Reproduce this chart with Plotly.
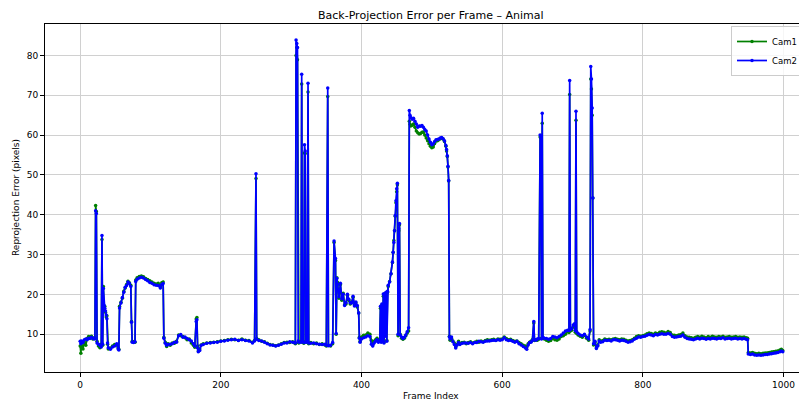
import plotly.graph_objects as go

frames = [
    0, 1, 2, 4, 6, 8, 10, 12, 14, 16, 18, 20, 21, 22, 23, 24, 26, 28, 30,
    31, 32, 33, 34, 35, 36, 37, 38, 39, 40, 43, 46, 49, 52, 54, 55,
    56, 58, 60, 62, 64, 66, 68, 70, 72, 73, 74, 76, 78,
    79, 81, 84, 87, 90, 93, 96, 99, 102, 105, 108, 111, 114, 116, 118,
    119, 121, 123, 125, 128, 131, 134, 137, 140, 143, 146, 149, 152, 155, 158, 161, 163,
    165, 166, 167, 168, 170, 172, 175, 180, 185, 190, 195, 200, 205, 210, 215, 220, 225,
    230, 235, 240, 245, 248, 250, 251, 254, 258, 262, 266, 270, 274, 278, 282, 286, 290,
    294, 298, 302, 305, 306, 307, 308, 309, 310, 311, 314, 315, 316, 318, 319, 320, 321,
    323, 324, 325, 328, 332, 336, 340, 344, 348, 350, 352, 353, 356, 359,
    361, 363, 364, 365, 366, 368, 370, 372, 374, 376, 378, 380, 382, 384, 386, 388, 390,
    392, 394, 396, 397, 398, 400, 403, 406, 409, 412, 414, 416, 418, 420, 422, 424, 426,
    427, 428, 429, 430, 431, 432, 433, 434, 435, 436, 437, 438, 440, 442, 444, 445, 446,
    447, 448, 449, 450, 451, 452, 453, 454, 455, 457, 459, 461, 463, 465, 467,
    468, 469, 470, 472, 474, 476, 478, 480, 482, 484, 486, 488, 490, 492, 494, 496, 498,
    500, 502, 504, 506, 508, 510, 512, 514, 516, 518, 520, 521, 522, 523, 524,
    525, 526, 528, 530, 532, 534, 536, 538, 540, 543, 546, 549, 552, 555, 558, 561, 564,
    567, 570, 573, 576, 579, 582, 585, 588, 591, 594, 597, 600, 603, 606, 609, 612, 615,
    618, 621, 624, 627, 630, 633, 635, 637, 639, 641, 643, 645, 646, 648, 650, 652,
    654, 655, 656, 657, 658, 660, 663, 666, 669, 672, 675, 678, 681, 684, 687, 690, 693,
    695, 696, 697, 699, 701, 703, 704, 705, 706, 708, 711, 714, 717, 720, 723, 725,
    726, 727, 728, 729, 730, 732, 734, 736, 738, 740, 743, 746, 749, 752, 755, 758, 761,
    764, 767, 770, 773, 776, 779, 782, 785, 788, 791, 794, 797, 800, 803, 806, 809, 812,
    815, 818, 821, 824, 827, 830, 833, 836, 839, 842, 845, 848, 851, 854, 857, 860, 863,
    866, 869, 872, 875, 878, 881, 884, 887, 890, 893, 896, 899, 902, 905, 908, 911, 914,
    917, 920, 923, 926, 929, 932, 935, 938, 941, 944, 947, 949,
    950, 953, 956, 959, 962, 965, 968, 971, 974, 977, 980, 983, 986, 989, 992, 995, 997, 999,
]

cam1 = [
    7.0, 5.2, 7.8, 6.3, 8.0, 7.2, 8.9, 9.4, 9.2, 9.5, 8.8, 9.1, 9.0, 42.3, 40.8, 8.2, 7.0, 6.6, 7.5,
    33.8, 7.2, 22.0, 16.8, 17.0, 15.5, 14.3, 14.6, 7.5, 6.3, 6.5, 7.0, 7.4, 7.3, 6.6, 6.2,
    17.0, 18.0, 19.0, 20.8, 21.6, 22.5, 23.3, 22.9, 22.3, 13.2, 8.2, 8.1, 8.0,
    23.6, 24.2, 24.5, 24.6, 24.4, 24.0, 23.7, 23.4, 23.1, 22.8, 22.6, 22.8, 22.0, 22.9, 23.1,
    9.2, 8.0, 6.9, 7.6, 7.2, 7.8, 7.7, 8.2, 9.8, 9.6, 9.4, 9.1, 8.6, 8.8, 7.8, 7.2, 6.7,
    13.8, 14.2, 7.0, 5.8, 6.3, 7.3, 7.6, 7.8, 7.9, 8.0, 8.1, 8.3, 8.4, 8.6, 8.7, 8.6, 8.5,
    8.8, 8.5, 8.4, 8.0, 8.4, 49.1, 8.9, 8.6, 8.2, 8.1, 7.7, 7.4, 7.3, 7.1, 7.3, 7.6, 7.9,
    8.0, 7.9, 8.1, 7.8, 7.6, 80.0, 82.0, 78.9, 8.0, 7.8, 8.1, 72.8, 8.0, 7.7, 55.5, 55.4, 8.2,
    7.9, 70.8, 7.6, 7.9, 7.6, 7.8, 7.4, 7.6, 7.3, 7.0, 69.7, 7.2, 7.0, 7.6,
    33.0, 28.5, 10.0, 24.2, 23.0, 19.0, 22.5, 18.5, 20.3, 17.4, 17.6, 19.8, 18.5, 17.6, 18.0, 19.3, 17.3,
    17.9, 16.8, 15.3, 9.2, 8.2, 9.3, 9.7, 9.8, 10.3, 10.0, 8.4, 7.3, 8.2, 8.6, 9.0, 8.2, 8.7,
    16.5, 8.3, 17.3, 8.6, 19.5, 8.0, 20.0, 10.0, 20.4, 8.5, 20.5, 22.0, 23.2, 25.2, 28.0, 30.5, 33.5,
    36.0, 39.6, 43.0, 45.8, 47.5, 9.6, 36.0, 37.5, 10.0, 9.0, 8.7, 9.0, 9.6, 10.3, 10.8,
    63.5, 62.7, 62.3, 62.5, 62.8, 62.0, 61.0, 60.6, 60.3, 60.4, 60.7, 60.8, 60.0, 59.3, 58.6, 57.8, 57.2,
    56.8, 57.0, 57.9, 58.5, 58.6, 58.8, 59.1, 59.2, 59.0, 58.4, 57.2, 56.0, 54.6, 52.0, 48.5,
    9.5, 8.5, 9.0, 8.3, 7.8, 6.8, 7.5, 8.2, 7.6, 7.9, 8.0, 7.6, 7.9, 8.1, 7.8, 8.0, 8.2,
    8.0, 8.3, 8.1, 8.4, 8.6, 8.5, 8.6, 8.7, 8.5, 8.8, 8.7, 8.8, 9.3, 8.9, 8.6, 8.7, 8.4,
    8.2, 8.3, 7.9, 7.6, 7.2, 7.0, 6.8, 7.6, 8.0, 8.2, 8.6, 12.8, 8.4, 8.6, 8.5, 8.7,
    59.5, 59.4, 9.0, 63.0, 9.0, 8.8, 8.5, 8.2, 8.4, 8.9, 8.6, 8.5, 8.8, 9.4, 9.6, 10.0, 10.6,
    10.4, 70.2, 10.8, 11.0, 11.8, 12.0, 10.5, 63.7, 10.2, 9.8, 9.5, 9.2, 9.7, 9.0, 8.5, 10.8,
    74.1, 71.6, 65.0, 44.2, 7.3, 7.9, 6.6, 7.3, 8.6, 8.2, 8.4, 8.8, 8.6, 8.7, 8.6, 8.8, 8.9,
    8.7, 8.6, 8.8, 8.7, 8.5, 8.3, 8.4, 8.6, 9.0, 9.4, 9.6, 9.5, 9.6, 9.8, 10.1, 10.3, 10.2,
    10.0, 10.3, 10.1, 10.5, 10.6, 10.5, 10.3, 10.7, 10.4, 9.8, 9.7, 9.6, 9.8, 9.9, 10.3, 9.6, 9.3,
    9.2, 9.1, 9.0, 9.2, 9.4, 9.2, 9.5, 9.3, 9.1, 9.4, 9.2, 9.5, 9.3, 9.2, 9.4, 9.3, 9.5,
    9.2, 9.3, 9.4, 9.2, 9.3, 9.4, 9.2, 9.3, 9.2, 9.3, 9.1, 9.0,
    5.4, 5.3, 5.4, 5.2, 5.1, 5.2, 5.1, 5.2, 5.3, 5.3, 5.4, 5.5, 5.6, 5.7, 5.8, 6.0, 6.2, 5.9,
]

cam2 = [
    8.2, 7.6, 8.3, 7.9, 8.6, 8.8, 8.6, 9.0, 8.9, 9.2, 9.0, 8.8, 8.9, 41.0, 40.3, 7.8, 7.5, 7.2, 6.8,
    34.8, 7.5, 21.5, 17.2, 16.5, 15.8, 14.8, 13.9, 7.8, 6.6, 6.2, 6.8, 7.0, 7.6, 6.3, 6.0,
    16.6, 17.8, 19.2, 20.5, 21.8, 22.2, 23.1, 22.7, 22.0, 13.0, 8.0, 7.9, 8.1,
    23.2, 23.8, 24.1, 24.3, 24.1, 23.7, 23.4, 23.0, 22.8, 22.4, 22.3, 22.2, 21.6, 22.5, 22.7,
    9.0, 7.7, 7.2, 7.4, 7.5, 7.6, 8.0, 8.0, 9.6, 9.9, 9.2, 9.3, 8.9, 8.6, 8.3, 7.6, 7.0,
    13.2, 13.6, 6.5, 5.6, 5.9, 7.2, 7.4, 7.7, 7.8, 7.9, 8.0, 8.2, 8.3, 8.5, 8.6, 8.7, 8.4,
    8.6, 8.4, 8.3, 7.8, 8.3, 50.3, 8.7, 8.4, 8.3, 8.0, 7.6, 7.3, 7.2, 7.0, 7.2, 7.5, 7.8,
    7.8, 8.1, 8.0, 7.9, 7.8, 83.9, 83.0, 82.0, 8.3, 8.0, 8.0, 75.3, 8.2, 7.9, 57.6, 56.0, 8.0,
    8.1, 73.0, 7.8, 7.7, 7.8, 7.6, 7.5, 7.4, 7.5, 7.2, 71.8, 7.1, 7.2, 7.9,
    33.4, 29.0, 10.2, 24.0, 22.5, 19.4, 22.8, 18.9, 20.0, 17.2, 17.9, 20.0, 18.8, 17.9, 17.8, 19.5, 17.1,
    18.1, 17.2, 15.3, 9.0, 8.0, 8.8, 9.1, 9.3, 9.6, 9.4, 7.5, 7.0, 7.8, 8.2, 8.6, 8.0, 8.4,
    17.0, 8.0, 17.6, 8.4, 20.1, 7.8, 20.2, 9.5, 20.5, 8.2, 20.8, 22.3, 23.1, 25.2, 28.1, 30.6, 33.0,
    36.0, 39.8, 43.5, 46.5, 47.9, 10.0, 36.5, 37.8, 9.8, 9.3, 8.9, 9.2, 9.8, 10.6, 11.6,
    66.2, 65.0, 64.4, 64.0, 64.2, 63.5, 62.8, 62.0, 62.3, 62.2, 62.4, 62.0, 61.4, 61.0, 60.0, 59.0, 58.2,
    57.6, 57.8, 58.4, 58.8, 58.9, 59.0, 59.3, 59.4, 59.1, 58.6, 57.4, 56.4, 54.8, 52.2, 48.6,
    9.3, 8.8, 9.3, 8.1, 7.4, 6.5, 7.3, 7.9, 7.4, 7.7, 7.8, 7.8, 7.7, 7.9, 7.6, 7.9, 7.9,
    8.2, 8.1, 8.0, 8.2, 8.3, 8.3, 8.4, 8.5, 8.4, 8.6, 8.5, 8.6, 9.1, 8.6, 8.4, 8.5, 8.2,
    8.0, 8.2, 7.6, 7.3, 6.9, 6.5, 6.2, 7.3, 7.9, 8.0, 8.4, 13.2, 8.6, 8.5, 8.8, 8.9,
    60.0, 59.8, 8.8, 65.5, 9.2, 9.0, 8.9, 8.7, 8.9, 9.4, 9.3, 9.1, 9.4, 9.8, 10.3, 10.8, 11.0,
    10.9, 73.7, 11.2, 11.4, 12.3, 12.6, 10.9, 66.0, 10.6, 10.2, 9.8, 9.6, 10.0, 9.3, 8.8, 11.2,
    77.2, 74.1, 66.8, 44.2, 7.6, 8.2, 6.4, 7.0, 8.3, 8.0, 8.1, 8.5, 8.4, 8.5, 8.3, 8.6, 8.6,
    8.5, 8.3, 8.5, 8.4, 8.2, 8.0, 8.1, 8.3, 8.7, 9.0, 9.3, 9.2, 9.4, 9.5, 9.7, 9.9, 9.8,
    9.6, 9.9, 9.8, 10.0, 10.1, 10.0, 10.0, 10.2, 10.0, 9.4, 9.2, 9.3, 9.4, 9.5, 9.8, 9.2, 8.9,
    8.8, 8.7, 8.6, 8.8, 9.0, 8.8, 9.0, 8.9, 8.7, 8.9, 8.8, 9.0, 8.9, 8.8, 9.0, 8.9, 9.1,
    8.8, 8.9, 9.0, 8.8, 8.9, 9.0, 8.8, 8.9, 8.8, 8.9, 8.7, 8.6,
    5.0, 4.9, 5.0, 4.8, 4.7, 4.8, 4.7, 4.8, 4.9, 4.9, 5.0, 5.1, 5.2, 5.3, 5.4, 5.6, 5.8, 5.6,
]

series_names = ["Cam1", "Cam2"]
series_colors = ["#008000", "#0000ff"]
x_ticks = [0, 200, 400, 600, 800, 1000]
y_ticks = [10, 20, 30, 40, 50, 60, 70, 80]

FONT = "DejaVu Sans"

fig = go.Figure()
for name, vals, col in zip(series_names, [cam1, cam2], series_colors):
    fig.add_trace(go.Scatter(
        x=frames, y=vals, name=name, mode="lines+markers",
        line=dict(color=col, width=1.7),
        marker=dict(color=col, size=3.5, symbol="circle"),
    ))

# the page body adds an 8px offset; the figure is sized to fill the rest of the window
OFF = 8
W, H = 807 - OFF, 403 - OFF
ml = 45 - OFF
mt = 24 - OFF
mb = H - (372 - OFF)
plot_w = W - ml
plot_h = H - mt - mb
k = 0.7033  # px per frame in reference
x_max = -50 + plot_w / k

center_px = 431 - OFF

fig.update_layout(
    width=W, height=H,
    margin=dict(l=ml, r=0, t=mt, b=mb, pad=0, autoexpand=False),
    paper_bgcolor="white", plot_bgcolor="white",
    font=dict(family=FONT, size=9, color="black"),
    showlegend=True,
    legend=dict(
        x=(731 - OFF - ml) / plot_w, y=1 - 2 / plot_h,
        xanchor="left", yanchor="top",
        bgcolor="rgba(255,255,255,0.8)", bordercolor="#cccccc", borderwidth=1,
        font=dict(family=FONT, size=8.5, color="black"),
        tracegroupgap=0, itemwidth=30,
    ),
    xaxis=dict(
        range=[-50, x_max], tickvals=x_ticks, ticktext=[str(v) for v in x_ticks],
        showgrid=True, gridcolor="#d0d0d0", gridwidth=1,
        showline=True, linecolor="black", linewidth=1, mirror=True,
        ticks="outside", ticklen=4, tickcolor="black",
        zeroline=False, tickfont=dict(family=FONT, size=9), automargin=False,
    ),
    yaxis=dict(
        range=[0.5, 87.9], tickvals=y_ticks, ticktext=[str(v) for v in y_ticks],
        showgrid=True, gridcolor="#d0d0d0", gridwidth=1,
        showline=True, linecolor="black", linewidth=1, mirror=False,
        ticks="outside", ticklen=4, tickcolor="black",
        zeroline=False, tickfont=dict(family=FONT, size=9), automargin=False,
    ),
    annotations=[
        dict(text="Back-Projection Error per Frame – Animal", xref="paper", yref="paper",
             x=(center_px - ml) / plot_w, y=1, yshift=9, xanchor="center", yanchor="middle",
             showarrow=False, borderpad=0, font=dict(family=FONT, size=11)),
        dict(text="Frame Index", xref="paper", yref="paper",
             x=(center_px - ml) / plot_w, y=0, yshift=-17, xanchor="center", yanchor="top",
             showarrow=False, font=dict(family=FONT, size=9)),
        dict(text="Reprojection Error (pixels)", xref="paper", yref="paper",
             x=0, xshift=-22, y=0.5, xanchor="right", yanchor="middle", textangle=-90,
             showarrow=False, font=dict(family=FONT, size=9)),
    ],
)

fig.write_html("out.html")
